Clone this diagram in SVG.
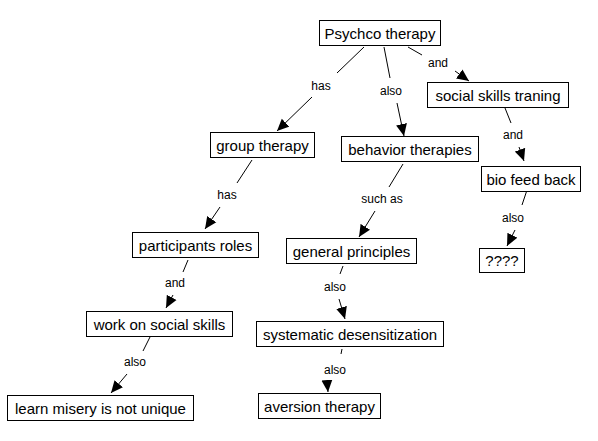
<svg xmlns="http://www.w3.org/2000/svg" width="598" height="441" viewBox="0 0 598 441">
<style>
.box{fill:#fff;stroke:#000;stroke-width:1}
.nt{font-family:"Liberation Sans",Arial,sans-serif;font-size:15px;fill:#000;text-anchor:middle}
.lt{font-family:"Liberation Sans",Arial,sans-serif;font-size:12px;fill:#000;text-anchor:middle}
.c{stroke:#000;stroke-width:1;fill:none}
</style>
<defs>
<marker id="ah" markerUnits="userSpaceOnUse" markerWidth="13" markerHeight="12" refX="12" refY="5.5" orient="auto" viewBox="0 0 13 11">
<path d="M0,0 L12,5.5 L0,11 z" fill="#000"/>
</marker>
</defs>
<rect width="598" height="441" fill="#fff"/>
<g id="connectors">
<line class="c" x1="364" y1="47" x2="337" y2="73"/>
<text class="lt" x="321" y="90">has</text>
<line class="c" x1="312" y1="97" x2="277" y2="131" marker-end="url(#ah)"/>

<line class="c" x1="384" y1="47" x2="390" y2="78"/>
<text class="lt" x="391" y="95">also</text>
<line class="c" x1="397" y1="103" x2="404" y2="136" marker-end="url(#ah)"/>

<line class="c" x1="408" y1="47" x2="422" y2="55"/>
<text class="lt" x="438" y="67">and</text>
<line class="c" x1="455" y1="71" x2="469" y2="81" marker-end="url(#ah)"/>

<line class="c" x1="505" y1="108" x2="511" y2="123"/>
<text class="lt" x="513" y="139">and</text>
<line class="c" x1="519" y1="147" x2="524" y2="161" marker-end="url(#ah)"/>

<line class="c" x1="252" y1="160" x2="237" y2="183"/>
<text class="lt" x="227" y="199">has</text>
<line class="c" x1="220" y1="207" x2="205" y2="229" marker-end="url(#ah)"/>

<line class="c" x1="188" y1="260" x2="183" y2="272"/>
<text class="lt" x="175" y="287">and</text>
<line class="c" x1="173" y1="295" x2="166" y2="308" marker-end="url(#ah)"/>

<line class="c" x1="150" y1="337" x2="143" y2="351"/>
<text class="lt" x="135" y="366">also</text>
<line class="c" x1="127" y1="374" x2="111" y2="393" marker-end="url(#ah)"/>

<line class="c" x1="403" y1="164" x2="389" y2="187"/>
<text class="lt" x="382" y="203">such as</text>
<line class="c" x1="375" y1="211" x2="359" y2="237" marker-end="url(#ah)"/>

<line class="c" x1="343" y1="266" x2="340" y2="274"/>
<text class="lt" x="335" y="291">also</text>
<line class="c" x1="339" y1="299" x2="345" y2="319" marker-end="url(#ah)"/>

<line class="c" x1="342" y1="349" x2="341" y2="354"/>
<text class="lt" x="335" y="374">also</text>
<line class="c" x1="327" y1="381" x2="328" y2="392" marker-end="url(#ah)"/>

<line class="c" x1="527" y1="190" x2="522" y2="205"/>
<text class="lt" x="513" y="222">also</text>
<line class="c" x1="515" y1="230" x2="507" y2="246" marker-end="url(#ah)"/>
</g>
<g id="n1"><rect class="box" x="319.5" y="20.5" width="121" height="25"/><text class="nt" x="380" y="38.5">Psychco therapy</text></g>
<g id="n2"><rect class="box" x="427.5" y="82.5" width="141" height="25"/><text class="nt" x="498" y="100.5">social skills traning</text></g>
<g id="n3"><rect class="box" x="210.5" y="132.5" width="104" height="25"/><text class="nt" x="262.5" y="150.5">group therapy</text></g>
<g id="n4"><rect class="box" x="341.5" y="136.5" width="137" height="25"/><text class="nt" x="410" y="154.5">behavior therapies</text></g>
<g id="n5"><rect class="box" x="481.5" y="166.5" width="99" height="25"/><text class="nt" x="531" y="184.5">bio feed back</text></g>
<g id="n6"><rect class="box" x="132.5" y="232.5" width="126" height="25"/><text class="nt" x="195.5" y="250.5">participants roles</text></g>
<g id="n7"><rect class="box" x="286.5" y="238.5" width="130" height="25"/><text class="nt" x="351.5" y="256.5">general principles</text></g>
<g id="n8"><rect class="box" x="479.5" y="248.5" width="45" height="24"/><text class="nt" x="502" y="266">????</text></g>
<g id="n9"><rect class="box" x="86.5" y="311.5" width="146" height="25"/><text class="nt" x="159.5" y="329.5">work on social skills</text></g>
<g id="n10"><rect class="box" x="256.5" y="321.5" width="187" height="25"/><text class="nt" x="350" y="339.5">systematic desensitization</text></g>
<g id="n11"><rect class="box" x="7.5" y="395.5" width="186" height="25"/><text class="nt" x="100.5" y="413.5">learn misery is not unique</text></g>
<g id="n12"><rect class="box" x="258.5" y="393.5" width="122" height="25"/><text class="nt" x="319.5" y="411.5">aversion therapy</text></g>
</svg>
